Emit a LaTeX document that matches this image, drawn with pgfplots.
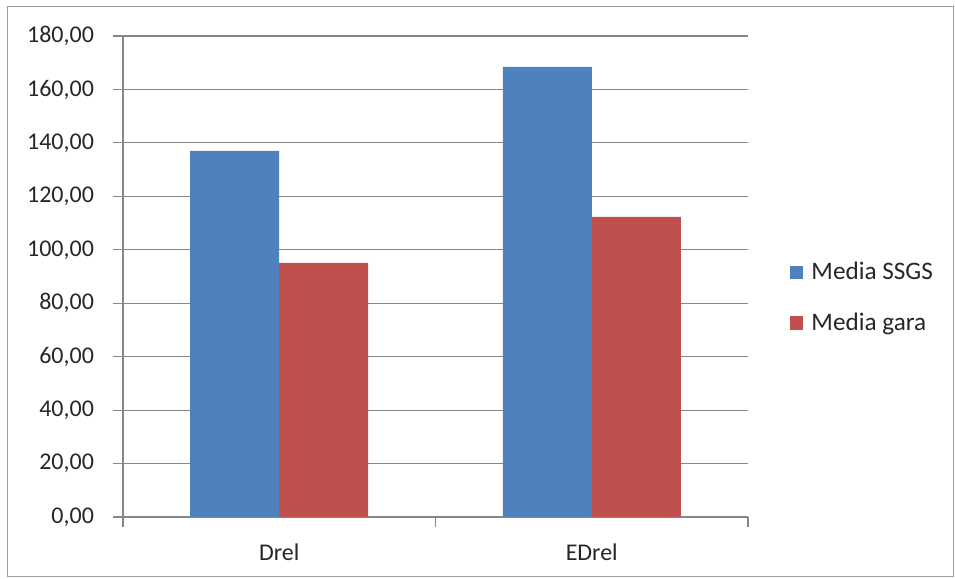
\documentclass[border=0pt]{standalone}
\usepackage{fontspec}
\setmainfont{Carlito}
\usepackage{pgfplots}
\pgfplotsset{compat=1.18}
\definecolor{sblue}{HTML}{4F81BD}
\definecolor{sred}{HTML}{C0504D}
\definecolor{gridc}{HTML}{868686}
\begin{document}
\begin{tikzpicture}
\path[use as bounding box] (0pt,0pt) rectangle (477.5pt,289.5pt);
\draw[gridc!80,line width=0.5pt] (3.5pt,1pt) rectangle (476.5pt,286pt);
\begin{axis}[
  at={(61.5pt,31pt)}, anchor=south west,
  scale only axis, width=312.5pt, height=240.5pt,
  ymin=0, ymax=180, ytick distance=20,
  xmin=-0.5, xmax=1.5,
  xtick={-0.5,0.5,1.5}, xticklabels={},
  extra x ticks={0,1}, extra x tick labels={Drel,EDrel},
  extra x tick style={major tick length=0pt, grid=none},
  axis x line*=bottom, axis y line*=left,
  axis line style={gridc, line width=0.6pt},
  tick style={gridc, line width=0.6pt},
  tick align=outside, major tick length=5pt,
  ymajorgrids, grid style={gridc, line width=0.6pt},
  font=\fontsize{12}{14}\selectfont,
  tick label style={text=black!85},
  /pgf/number format/assume math mode=true,
  yticklabel style={xshift=-6pt, /pgf/number format/.cd, fixed, fixed zerofill, precision=2, use comma, 1000 sep={}},
  xticklabel style={yshift=-10pt},
  ybar=0pt, bar width=44.5pt,
  legend style={at={(1.067,0.456)}, anchor=west, draw=none, fill=none,
    font=\fontsize{12.6}{14}\selectfont, text=black!85, row sep=11pt, inner sep=0pt,
    nodes={inner xsep=4pt}},
  legend cell align=left,
  legend image code/.code={\fill[#1] (0pt,-3.3pt) rectangle (6.6pt,3.3pt);},
]
\addplot[fill=sblue, draw=none] coordinates {(0,137.0) (1,168.4)};
\addplot[fill=sred, draw=none] coordinates {(0,95.1) (1,112.3)};
\legend{Media SSGS, Media gara}
\end{axis}
\end{tikzpicture}
\end{document}
